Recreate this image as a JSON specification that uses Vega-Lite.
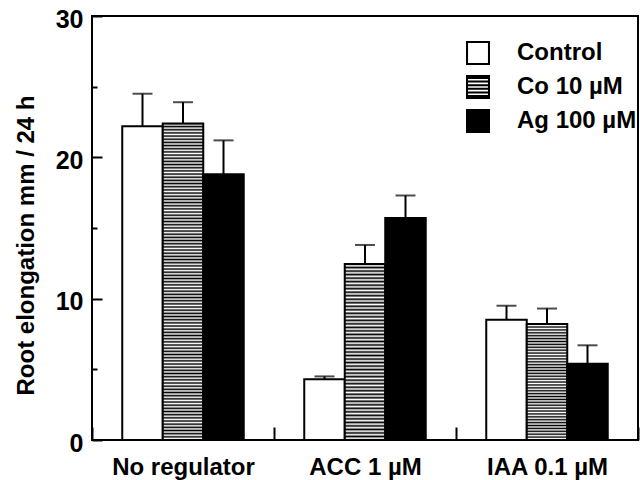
{
"$schema": "https://vega.github.io/schema/vega-lite/v6.json",
"width": 546, "height": 424,
"autosize": "none",
"padding": {"left": 92, "top": 16, "right": 2, "bottom": 40},
"background": "#ffffff",
"config": {"view": {"stroke": "#000", "strokeWidth": 2}, "font": "Liberation Sans"},
"data": {"values": [
{"group": "No regulator", "series": "Control", "value": 22.2, "upper": 24.5},
{"group": "No regulator", "series": "Co 10 µM", "value": 22.4, "upper": 23.9},
{"group": "No regulator", "series": "Ag 100 µM", "value": 18.8, "upper": 21.2},
{"group": "ACC 1 µM", "series": "Control", "value": 4.3, "upper": 4.5},
{"group": "ACC 1 µM", "series": "Co 10 µM", "value": 12.45, "upper": 13.8},
{"group": "ACC 1 µM", "series": "Ag 100 µM", "value": 15.7, "upper": 17.3},
{"group": "IAA 0.1 µM", "series": "Control", "value": 8.5, "upper": 9.5},
{"group": "IAA 0.1 µM", "series": "Co 10 µM", "value": 8.2, "upper": 9.3},
{"group": "IAA 0.1 µM", "series": "Ag 100 µM", "value": 5.4, "upper": 6.7}
]},
"resolve": {"axis": {"y": "independent"}},
"layer": [
{
"mark": {"type": "bar", "stroke": "#000", "strokeWidth": 2, "opacity": 1},
"encoding": {
"x": {"field": "group", "type": "nominal", "sort": ["No regulator", "ACC 1 µM", "IAA 0.1 µM"], "scale": {"paddingInner": 0, "paddingOuter": 0},
 "axis": {"title": null, "tickBand": "extent", "tickSize": -13, "tickWidth": 2, "tickColor": "#000", "domain": false, "labelAngle": 0, "labelFont": "Liberation Sans", "labelFontSize": 24, "labelFontWeight": "bold", "labelColor": "#000", "labelPadding": 28}},
"xOffset": {"field": "series", "type": "nominal", "sort": ["Control", "Co 10 µM", "Ag 100 µM"], "scale": {"paddingInner": 0, "paddingOuter": 0.747}},
"y": {"field": "value", "type": "quantitative", "scale": {"domain": [0, 30], "nice": false},
 "axis": {"orient": "left", "values": [0, 10, 20, 30], "title": "Root elongation mm / 24 h", "tickSize": -10, "tickWidth": 2, "tickColor": "#000", "domain": false, "grid": false, "labelFont": "Liberation Sans", "labelFontSize": 25, "labelFontWeight": "bold", "labelColor": "#000", "labelPadding": 19, "labelOffset": 3, "titleFont": "Liberation Sans", "titleFontSize": 24, "titleFontWeight": "bold", "titleColor": "#000", "titleAngle": -90, "titleX": -59, "titleY": 229, "titleAlign": "center", "titleBaseline": "alphabetic"}},
"fill": {"field": "series", "type": "nominal", "sort": ["Control", "Co 10 µM", "Ag 100 µM"],
 "scale": {"range": ["#ffffff", "#555555", "#000000"]},
 "legend": null,
 "condition": [
 {"test": "datum.series === 'Co 10 µM' && datum.group === 'No regulator'", "value": {"gradient": "linear", "x1": 0, "y1": 0, "x2": 0, "y2": 1, "stops": [
{"offset":0,"color":"#000"},{"offset":0.005,"color":"#fff"},{"offset":0.01,"color":"#000"},{"offset":0.015,"color":"#fff"},{"offset":0.02,"color":"#000"},{"offset":0.025,"color":"#fff"},{"offset":0.03,"color":"#000"},{"offset":0.035,"color":"#fff"},{"offset":0.04,"color":"#000"},{"offset":0.045,"color":"#fff"},
{"offset":0.05,"color":"#000"},{"offset":0.055,"color":"#fff"},{"offset":0.06,"color":"#000"},{"offset":0.065,"color":"#fff"},{"offset":0.07,"color":"#000"},{"offset":0.075,"color":"#fff"},{"offset":0.08,"color":"#000"},{"offset":0.085,"color":"#fff"},{"offset":0.09,"color":"#000"},{"offset":0.095,"color":"#fff"},
{"offset":0.1,"color":"#000"},{"offset":0.105,"color":"#fff"},{"offset":0.11,"color":"#000"},{"offset":0.115,"color":"#fff"},{"offset":0.12,"color":"#000"},{"offset":0.125,"color":"#fff"},{"offset":0.13,"color":"#000"},{"offset":0.135,"color":"#fff"},{"offset":0.14,"color":"#000"},{"offset":0.145,"color":"#fff"},
{"offset":0.15,"color":"#000"},{"offset":0.155,"color":"#fff"},{"offset":0.16,"color":"#000"},{"offset":0.165,"color":"#fff"},{"offset":0.17,"color":"#000"},{"offset":0.175,"color":"#fff"},{"offset":0.18,"color":"#000"},{"offset":0.185,"color":"#fff"},{"offset":0.19,"color":"#000"},{"offset":0.195,"color":"#fff"},
{"offset":0.2,"color":"#000"},{"offset":0.205,"color":"#fff"},{"offset":0.21,"color":"#000"},{"offset":0.215,"color":"#fff"},{"offset":0.22,"color":"#000"},{"offset":0.225,"color":"#fff"},{"offset":0.23,"color":"#000"},{"offset":0.235,"color":"#fff"},{"offset":0.24,"color":"#000"},{"offset":0.245,"color":"#fff"},
{"offset":0.25,"color":"#000"},{"offset":0.255,"color":"#fff"},{"offset":0.26,"color":"#000"},{"offset":0.265,"color":"#fff"},{"offset":0.27,"color":"#000"},{"offset":0.275,"color":"#fff"},{"offset":0.28,"color":"#000"},{"offset":0.285,"color":"#fff"},{"offset":0.29,"color":"#000"},{"offset":0.295,"color":"#fff"},
{"offset":0.3,"color":"#000"},{"offset":0.305,"color":"#fff"},{"offset":0.31,"color":"#000"},{"offset":0.315,"color":"#fff"},{"offset":0.32,"color":"#000"},{"offset":0.325,"color":"#fff"},{"offset":0.33,"color":"#000"},{"offset":0.335,"color":"#fff"},{"offset":0.34,"color":"#000"},{"offset":0.345,"color":"#fff"},
{"offset":0.35,"color":"#000"},{"offset":0.355,"color":"#fff"},{"offset":0.36,"color":"#000"},{"offset":0.365,"color":"#fff"},{"offset":0.37,"color":"#000"},{"offset":0.375,"color":"#fff"},{"offset":0.38,"color":"#000"},{"offset":0.385,"color":"#fff"},{"offset":0.39,"color":"#000"},{"offset":0.395,"color":"#fff"},
{"offset":0.4,"color":"#000"},{"offset":0.405,"color":"#fff"},{"offset":0.41,"color":"#000"},{"offset":0.415,"color":"#fff"},{"offset":0.42,"color":"#000"},{"offset":0.425,"color":"#fff"},{"offset":0.43,"color":"#000"},{"offset":0.435,"color":"#fff"},{"offset":0.44,"color":"#000"},{"offset":0.445,"color":"#fff"},
{"offset":0.45,"color":"#000"},{"offset":0.455,"color":"#fff"},{"offset":0.46,"color":"#000"},{"offset":0.465,"color":"#fff"},{"offset":0.47,"color":"#000"},{"offset":0.475,"color":"#fff"},{"offset":0.48,"color":"#000"},{"offset":0.485,"color":"#fff"},{"offset":0.49,"color":"#000"},{"offset":0.495,"color":"#fff"},
{"offset":0.5,"color":"#000"},{"offset":0.505,"color":"#fff"},{"offset":0.51,"color":"#000"},{"offset":0.515,"color":"#fff"},{"offset":0.52,"color":"#000"},{"offset":0.525,"color":"#fff"},{"offset":0.53,"color":"#000"},{"offset":0.535,"color":"#fff"},{"offset":0.54,"color":"#000"},{"offset":0.545,"color":"#fff"},
{"offset":0.55,"color":"#000"},{"offset":0.555,"color":"#fff"},{"offset":0.56,"color":"#000"},{"offset":0.565,"color":"#fff"},{"offset":0.57,"color":"#000"},{"offset":0.575,"color":"#fff"},{"offset":0.58,"color":"#000"},{"offset":0.585,"color":"#fff"},{"offset":0.59,"color":"#000"},{"offset":0.595,"color":"#fff"},
{"offset":0.6,"color":"#000"},{"offset":0.605,"color":"#fff"},{"offset":0.61,"color":"#000"},{"offset":0.615,"color":"#fff"},{"offset":0.62,"color":"#000"},{"offset":0.625,"color":"#fff"},{"offset":0.63,"color":"#000"},{"offset":0.635,"color":"#fff"},{"offset":0.64,"color":"#000"},{"offset":0.645,"color":"#fff"},
{"offset":0.65,"color":"#000"},{"offset":0.655,"color":"#fff"},{"offset":0.66,"color":"#000"},{"offset":0.665,"color":"#fff"},{"offset":0.67,"color":"#000"},{"offset":0.675,"color":"#fff"},{"offset":0.68,"color":"#000"},{"offset":0.685,"color":"#fff"},{"offset":0.69,"color":"#000"},{"offset":0.695,"color":"#fff"},
{"offset":0.7,"color":"#000"},{"offset":0.705,"color":"#fff"},{"offset":0.71,"color":"#000"},{"offset":0.715,"color":"#fff"},{"offset":0.72,"color":"#000"},{"offset":0.725,"color":"#fff"},{"offset":0.73,"color":"#000"},{"offset":0.735,"color":"#fff"},{"offset":0.74,"color":"#000"},{"offset":0.745,"color":"#fff"},
{"offset":0.75,"color":"#000"},{"offset":0.755,"color":"#fff"},{"offset":0.76,"color":"#000"},{"offset":0.765,"color":"#fff"},{"offset":0.77,"color":"#000"},{"offset":0.775,"color":"#fff"},{"offset":0.78,"color":"#000"},{"offset":0.785,"color":"#fff"},{"offset":0.79,"color":"#000"},{"offset":0.795,"color":"#fff"},
{"offset":0.8,"color":"#000"},{"offset":0.805,"color":"#fff"},{"offset":0.81,"color":"#000"},{"offset":0.815,"color":"#fff"},{"offset":0.82,"color":"#000"},{"offset":0.825,"color":"#fff"},{"offset":0.83,"color":"#000"},{"offset":0.835,"color":"#fff"},{"offset":0.84,"color":"#000"},{"offset":0.845,"color":"#fff"},
{"offset":0.85,"color":"#000"},{"offset":0.855,"color":"#fff"},{"offset":0.86,"color":"#000"},{"offset":0.865,"color":"#fff"},{"offset":0.87,"color":"#000"},{"offset":0.875,"color":"#fff"},{"offset":0.88,"color":"#000"},{"offset":0.885,"color":"#fff"},{"offset":0.89,"color":"#000"},{"offset":0.895,"color":"#fff"},
{"offset":0.9,"color":"#000"},{"offset":0.905,"color":"#fff"},{"offset":0.91,"color":"#000"},{"offset":0.915,"color":"#fff"},{"offset":0.92,"color":"#000"},{"offset":0.925,"color":"#fff"},{"offset":0.93,"color":"#000"},{"offset":0.935,"color":"#fff"},{"offset":0.94,"color":"#000"},{"offset":0.945,"color":"#fff"},
{"offset":0.95,"color":"#000"},{"offset":0.955,"color":"#fff"},{"offset":0.96,"color":"#000"},{"offset":0.965,"color":"#fff"},{"offset":0.97,"color":"#000"},{"offset":0.975,"color":"#fff"},{"offset":0.98,"color":"#000"},{"offset":0.985,"color":"#fff"},{"offset":0.99,"color":"#000"},{"offset":0.995,"color":"#fff"},
{"offset":1,"color":"#000"}]}},
 {"test": "datum.series === 'Co 10 µM' && datum.group === 'ACC 1 µM'", "value": {"gradient": "linear", "x1": 0, "y1": 0, "x2": 0, "y2": 1, "stops": [
{"offset":0,"color":"#000"},{"offset":0.01,"color":"#fff"},{"offset":0.02,"color":"#000"},{"offset":0.03,"color":"#fff"},{"offset":0.04,"color":"#000"},{"offset":0.05,"color":"#fff"},{"offset":0.06,"color":"#000"},{"offset":0.07,"color":"#fff"},{"offset":0.08,"color":"#000"},{"offset":0.09,"color":"#fff"},
{"offset":0.1,"color":"#000"},{"offset":0.11,"color":"#fff"},{"offset":0.12,"color":"#000"},{"offset":0.13,"color":"#fff"},{"offset":0.14,"color":"#000"},{"offset":0.15,"color":"#fff"},{"offset":0.16,"color":"#000"},{"offset":0.17,"color":"#fff"},{"offset":0.18,"color":"#000"},{"offset":0.19,"color":"#fff"},
{"offset":0.2,"color":"#000"},{"offset":0.21,"color":"#fff"},{"offset":0.22,"color":"#000"},{"offset":0.23,"color":"#fff"},{"offset":0.24,"color":"#000"},{"offset":0.25,"color":"#fff"},{"offset":0.26,"color":"#000"},{"offset":0.27,"color":"#fff"},{"offset":0.28,"color":"#000"},{"offset":0.29,"color":"#fff"},
{"offset":0.3,"color":"#000"},{"offset":0.31,"color":"#fff"},{"offset":0.32,"color":"#000"},{"offset":0.33,"color":"#fff"},{"offset":0.34,"color":"#000"},{"offset":0.35,"color":"#fff"},{"offset":0.36,"color":"#000"},{"offset":0.37,"color":"#fff"},{"offset":0.38,"color":"#000"},{"offset":0.39,"color":"#fff"},
{"offset":0.4,"color":"#000"},{"offset":0.41,"color":"#fff"},{"offset":0.42,"color":"#000"},{"offset":0.43,"color":"#fff"},{"offset":0.44,"color":"#000"},{"offset":0.45,"color":"#fff"},{"offset":0.46,"color":"#000"},{"offset":0.47,"color":"#fff"},{"offset":0.48,"color":"#000"},{"offset":0.49,"color":"#fff"},
{"offset":0.5,"color":"#000"},{"offset":0.51,"color":"#fff"},{"offset":0.52,"color":"#000"},{"offset":0.53,"color":"#fff"},{"offset":0.54,"color":"#000"},{"offset":0.55,"color":"#fff"},{"offset":0.56,"color":"#000"},{"offset":0.57,"color":"#fff"},{"offset":0.58,"color":"#000"},{"offset":0.59,"color":"#fff"},
{"offset":0.6,"color":"#000"},{"offset":0.61,"color":"#fff"},{"offset":0.62,"color":"#000"},{"offset":0.63,"color":"#fff"},{"offset":0.64,"color":"#000"},{"offset":0.65,"color":"#fff"},{"offset":0.66,"color":"#000"},{"offset":0.67,"color":"#fff"},{"offset":0.68,"color":"#000"},{"offset":0.69,"color":"#fff"},
{"offset":0.7,"color":"#000"},{"offset":0.71,"color":"#fff"},{"offset":0.72,"color":"#000"},{"offset":0.73,"color":"#fff"},{"offset":0.74,"color":"#000"},{"offset":0.75,"color":"#fff"},{"offset":0.76,"color":"#000"},{"offset":0.77,"color":"#fff"},{"offset":0.78,"color":"#000"},{"offset":0.79,"color":"#fff"},
{"offset":0.8,"color":"#000"},{"offset":0.81,"color":"#fff"},{"offset":0.82,"color":"#000"},{"offset":0.83,"color":"#fff"},{"offset":0.84,"color":"#000"},{"offset":0.85,"color":"#fff"},{"offset":0.86,"color":"#000"},{"offset":0.87,"color":"#fff"},{"offset":0.88,"color":"#000"},{"offset":0.89,"color":"#fff"},
{"offset":0.9,"color":"#000"},{"offset":0.91,"color":"#fff"},{"offset":0.92,"color":"#000"},{"offset":0.93,"color":"#fff"},{"offset":0.94,"color":"#000"},{"offset":0.95,"color":"#fff"},{"offset":0.96,"color":"#000"},{"offset":0.97,"color":"#fff"},{"offset":0.98,"color":"#000"},{"offset":0.99,"color":"#fff"},
{"offset":1,"color":"#000"}]}},
 {"test": "datum.series === 'Co 10 µM' && datum.group === 'IAA 0.1 µM'", "value": {"gradient": "linear", "x1": 0, "y1": 0, "x2": 0, "y2": 1, "stops": [
{"offset":0,"color":"#000"},{"offset":0.0125,"color":"#fff"},{"offset":0.025,"color":"#000"},{"offset":0.0375,"color":"#fff"},{"offset":0.05,"color":"#000"},{"offset":0.0625,"color":"#fff"},{"offset":0.075,"color":"#000"},{"offset":0.0875,"color":"#fff"},
{"offset":0.1,"color":"#000"},{"offset":0.1125,"color":"#fff"},{"offset":0.125,"color":"#000"},{"offset":0.1375,"color":"#fff"},{"offset":0.15,"color":"#000"},{"offset":0.1625,"color":"#fff"},{"offset":0.175,"color":"#000"},{"offset":0.1875,"color":"#fff"},
{"offset":0.2,"color":"#000"},{"offset":0.2125,"color":"#fff"},{"offset":0.225,"color":"#000"},{"offset":0.2375,"color":"#fff"},{"offset":0.25,"color":"#000"},{"offset":0.2625,"color":"#fff"},{"offset":0.275,"color":"#000"},{"offset":0.2875,"color":"#fff"},
{"offset":0.3,"color":"#000"},{"offset":0.3125,"color":"#fff"},{"offset":0.325,"color":"#000"},{"offset":0.3375,"color":"#fff"},{"offset":0.35,"color":"#000"},{"offset":0.3625,"color":"#fff"},{"offset":0.375,"color":"#000"},{"offset":0.3875,"color":"#fff"},
{"offset":0.4,"color":"#000"},{"offset":0.4125,"color":"#fff"},{"offset":0.425,"color":"#000"},{"offset":0.4375,"color":"#fff"},{"offset":0.45,"color":"#000"},{"offset":0.4625,"color":"#fff"},{"offset":0.475,"color":"#000"},{"offset":0.4875,"color":"#fff"},
{"offset":0.5,"color":"#000"},{"offset":0.5125,"color":"#fff"},{"offset":0.525,"color":"#000"},{"offset":0.5375,"color":"#fff"},{"offset":0.55,"color":"#000"},{"offset":0.5625,"color":"#fff"},{"offset":0.575,"color":"#000"},{"offset":0.5875,"color":"#fff"},
{"offset":0.6,"color":"#000"},{"offset":0.6125,"color":"#fff"},{"offset":0.625,"color":"#000"},{"offset":0.6375,"color":"#fff"},{"offset":0.65,"color":"#000"},{"offset":0.6625,"color":"#fff"},{"offset":0.675,"color":"#000"},{"offset":0.6875,"color":"#fff"},
{"offset":0.7,"color":"#000"},{"offset":0.7125,"color":"#fff"},{"offset":0.725,"color":"#000"},{"offset":0.7375,"color":"#fff"},{"offset":0.75,"color":"#000"},{"offset":0.7625,"color":"#fff"},{"offset":0.775,"color":"#000"},{"offset":0.7875,"color":"#fff"},
{"offset":0.8,"color":"#000"},{"offset":0.8125,"color":"#fff"},{"offset":0.825,"color":"#000"},{"offset":0.8375,"color":"#fff"},{"offset":0.85,"color":"#000"},{"offset":0.8625,"color":"#fff"},{"offset":0.875,"color":"#000"},{"offset":0.8875,"color":"#fff"},
{"offset":0.9,"color":"#000"},{"offset":0.9125,"color":"#fff"},{"offset":0.925,"color":"#000"},{"offset":0.9375,"color":"#fff"},{"offset":0.95,"color":"#000"},{"offset":0.9625,"color":"#fff"},{"offset":0.975,"color":"#000"},{"offset":0.9875,"color":"#fff"},
{"offset":1,"color":"#000"}]}}
 ]}
}
},
{
"mark": {"type": "rule", "color": "#000", "strokeWidth": 2},
"encoding": {
"x": {"field": "group", "type": "nominal", "sort": ["No regulator", "ACC 1 µM", "IAA 0.1 µM"]},
"xOffset": {"field": "series", "type": "nominal", "sort": ["Control", "Co 10 µM", "Ag 100 µM"]},
"y": {"field": "value", "type": "quantitative", "axis": {"orient": "left", "values": [5, 15, 25], "tickSize": -5, "tickWidth": 2, "tickColor": "#000", "labels": false, "domain": false, "grid": false, "title": null}},
"y2": {"field": "upper"}
}
},
{
"mark": {"type": "tick", "color": "#000", "thickness": 2, "size": 20},
"encoding": {
"x": {"field": "group", "type": "nominal", "sort": ["No regulator", "ACC 1 µM", "IAA 0.1 µM"]},
"xOffset": {"field": "series", "type": "nominal", "sort": ["Control", "Co 10 µM", "Ag 100 µM"]},
"y": {"field": "upper", "type": "quantitative", "axis": null}
}
},
{
"mark": {"type": "point", "filled": true, "color": "#000", "strokeWidth": 0, "size": 0},
"encoding": {
"x": {"field": "group", "type": "nominal", "sort": ["No regulator", "ACC 1 µM", "IAA 0.1 µM"]},
"xOffset": {"field": "series", "type": "nominal", "sort": ["Control", "Co 10 µM", "Ag 100 µM"]},
"y": {"field": "value", "type": "quantitative", "axis": null},
"shape": {"field": "series", "type": "nominal",
 "scale": {"domain": ["Control", "Co 10 µM", "Ag 100 µM"], "range": [
  "M-1,-1H1V1H-1Z M-0.83,-0.83V0.83H0.83V-0.83Z",
  "M-1,-1H1V1H-1Z M-0.83,-0.6667V-0.5333H0.83V-0.6667Z M-0.83,-0.3667V-0.2333H0.83V-0.3667Z M-0.83,-0.0667V0.0667H0.83V-0.0667Z M-0.83,0.2333V0.3667H0.83V0.2333Z M-0.83,0.5333V0.6667H0.83V0.5333Z",
  "square"]},
 "legend": {"title": null, "orient": "none", "legendX": 374, "legendY": 25, "padding": 0, "symbolSize": 576, "symbolFillColor": "#000", "symbolStrokeWidth": 0, "symbolOpacity": 1, "labelFont": "Liberation Sans", "labelFontSize": 24, "labelFontWeight": "bold", "labelColor": "#000", "labelOffset": 27, "rowPadding": 10}}
}
}
]
}
